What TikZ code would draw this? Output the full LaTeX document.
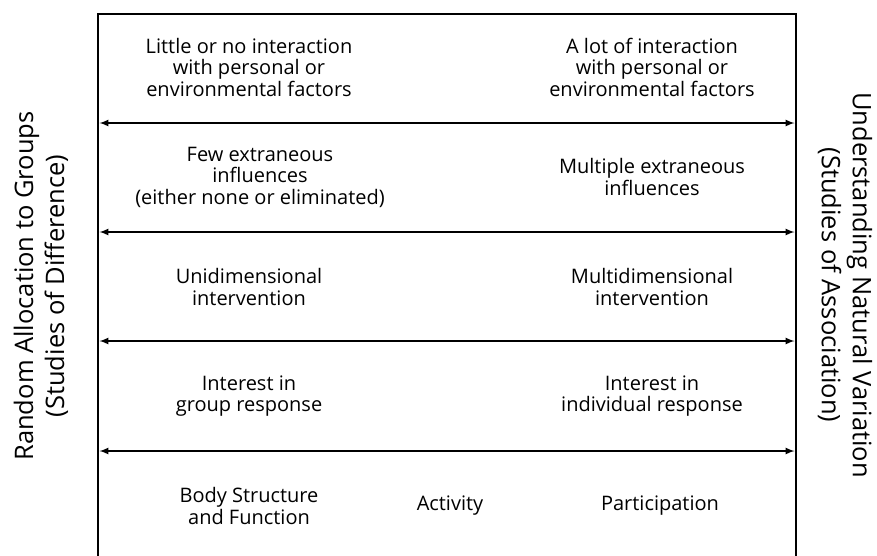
\documentclass[tikz,border=0pt]{standalone}
\usepackage{fontspec}
\setmainfont{Open Sans}
\usetikzlibrary{positioning}

\begin{document}
\begin{tikzpicture}[x=1pt, y=-1pt, >=latex,
    cell/.style = {align=center, font=\fontsize{20}{21.5}\selectfont, inner sep=0pt},
    side/.style = {align=center, font=\fontsize{25.5}{31}\selectfont, inner sep=0pt},
    frame/.style = {line width=2.6pt},
    split/.style = {line width=2pt, <->, shorten <=1.5pt, shorten >=1.5pt}]
    \useasboundingbox (0,0) rectangle (877,555);

    % outer frame, open at the bottom
    \coordinate (tl) at (98,14);
    \coordinate (tr) at (796,14);
    \coordinate (bl) at (98,560);
    \coordinate (br) at (796,560);
    \draw[frame] (bl) -- (tl) -- (tr) -- (br);

    % row dividers
    \foreach \y [count=\i] in {123,232,341,451} {
        \coordinate (l\i) at (98,\y);
        \coordinate (r\i) at (796,\y);
        \draw[split] (l\i) -- (r\i);
    }

    % left column
    \node[cell] (a1) at (249,67) {Little or no interaction\\with personal or\\environmental factors};
    \node[cell] (a2) at (260,177) {Few extraneous\\influences\\(either none or eliminated)};
    \node[cell] (a3) at (249,287) {Unidimensional\\intervention};
    \node[cell] (a4) at (249,396) {Interest in\\group response};
    \node[cell] (a5) at (249,506) {Body Structure\\and Function};

    % right column
    \node[cell] (b1) at (652,67) {A lot of interaction\\with personal or\\environmental factors};
    \node[cell] (b2) at (652,177) {Multiple extraneous\\influences};
    \node[cell] (b3) at (652,287) {Multidimensional\\intervention};
    \node[cell] (b4) at (652,396) {Interest in\\individual response};
    \node[cell] (b5) at (660,506) {Participation};

    \node[cell] (c5) at (450,506) {Activity};

    % side titles
    \node[side, rotate=90] (left) at (41,286) {Random Allocation to Groups\\(Studies of Difference)};
    \node[side, rotate=-90] (right) at (845,285) {Understanding Natural Variation\\(Studies of Association)};
\end{tikzpicture}
\end{document}
